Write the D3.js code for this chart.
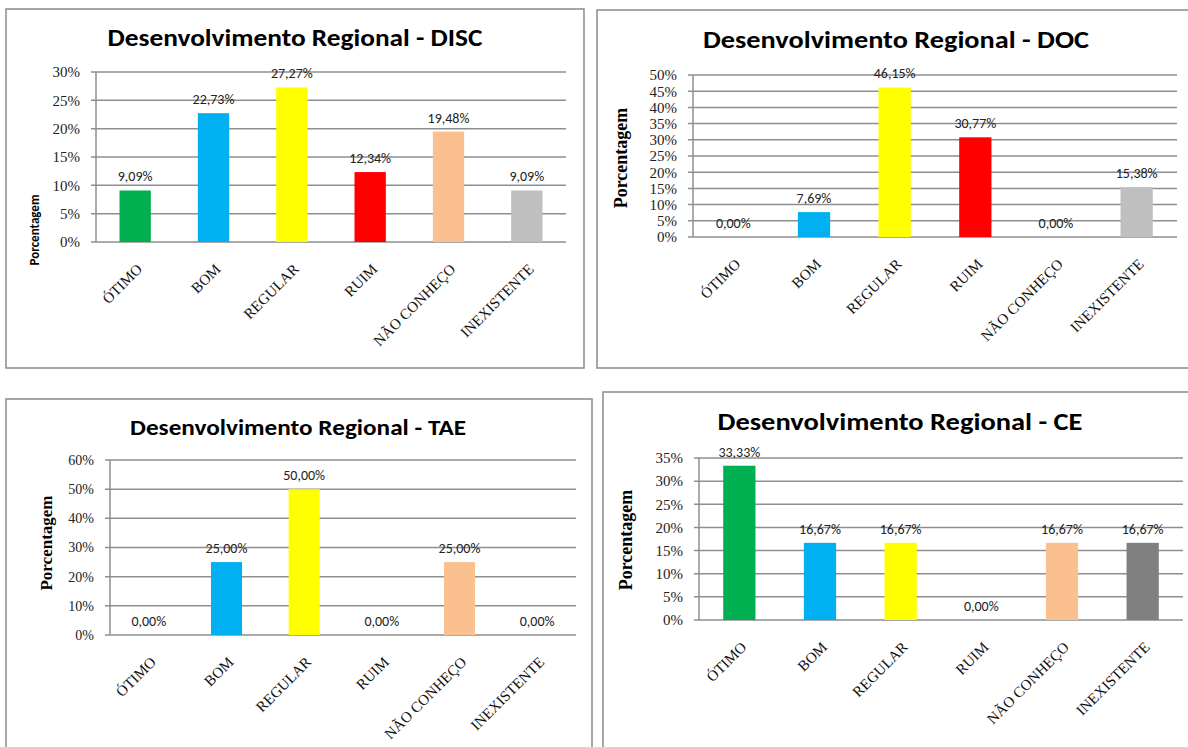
<!DOCTYPE html>
<html>
<head>
<meta charset="utf-8">
<script src="https://cdn.jsdelivr.net/npm/d3@7"></script>
<style>
  body { margin: 0; background: #fff; }
  svg { display: block; }
</style>
</head>
<body>
<div id="chart"></div>
<script>
'use strict';

/* Data */
const categories = ['ÓTIMO', 'BOM', 'REGULAR', 'RUIM', 'NÃO CONHEÇO', 'INEXISTENTE'];

const discValues = [9.09, 22.73, 27.27, 12.34, 19.48, 9.09];
const docValues  = [0, 7.69, 46.15, 30.77, 0, 15.38];
const taeValues  = [0, 25, 50, 0, 25, 0];
const ceValues   = [33.33, 16.67, 16.67, 0, 16.67, 16.67];

const discTicks = [0, 5, 10, 15, 20, 25, 30];
const docTicks  = [0, 5, 10, 15, 20, 25, 30, 35, 40, 45, 50];
const taeTicks  = [0, 10, 20, 30, 40, 50, 60];
const ceTicks   = [0, 5, 10, 15, 20, 25, 30, 35];

const barColors   = ['#00B050', '#00B0F0', '#FFFF00', '#FF0000', '#FAC090', '#BFBFBF'];
const ceBarColors = ['#00B050', '#00B0F0', '#FFFF00', '#FF0000', '#FAC090', '#808080'];

const SANS = 'Carlito, Calibri, Lato, sans-serif';
const SERIF = '"Liberation Serif", "Times New Roman", serif';
const GRID = '#8e8e8e';

const svg = d3.select('#chart').append('svg')
    .attr('width', 1188).attr('height', 747)
    .attr('viewBox', '0 0 1188 747');

const fmt = v => v.toFixed(2).replace('.', ',') + '%';

/**
 * One Excel-style column chart inside a grey framed box.
 */
function drawPanel(p) {
    const g = svg.append('g');

    g.append('rect')
        .attr('x', p.frame[0]).attr('y', p.frame[1])
        .attr('width', p.frame[2] - p.frame[0]).attr('height', p.frame[3] - p.frame[1])
        .attr('fill', '#fff').attr('stroke', '#8a8a8a').attr('stroke-width', 1.5);

    g.append('text')
        .attr('x', p.titleX).attr('y', p.titleY)
        .attr('text-anchor', 'middle')
        .attr('font-family', SANS).attr('font-weight', 900)
        .attr('font-size', p.titleSize)
        .attr('textLength', p.titleWidth).attr('lengthAdjust', 'spacingAndGlyphs')
        .attr('fill', '#000')
        .text(p.title);

    const x = d3.scaleBand().domain(categories)
        .range([p.left, p.right]).paddingInner(0.6).paddingOuter(0.3);
    const y = d3.scaleLinear().domain([0, d3.max(p.ticks)]).range([p.bottom, p.top]);

    /* gridlines + small tick marks left of the axis */
    g.selectAll('line.grid').data(p.ticks).join('line')
        .attr('class', 'grid')
        .attr('x1', p.left - 5).attr('x2', p.right)
        .attr('y1', d => y(d)).attr('y2', d => y(d))
        .attr('stroke', GRID).attr('stroke-width', 1.5);

    g.append('line')
        .attr('x1', p.left).attr('x2', p.left)
        .attr('y1', p.top).attr('y2', p.bottom)
        .attr('stroke', GRID).attr('stroke-width', 1.5);

    const yAxis = g.append('g')
        .attr('transform', `translate(${p.left},0)`)
        .call(d3.axisLeft(y).tickValues(p.ticks).tickFormat(d => d + '%').tickSize(0).tickPadding(16));
    yAxis.select('.domain').remove();
    yAxis.selectAll('text')
        .attr('font-family', SERIF).attr('font-size', p.tickSize).attr('fill', '#222');

    /* bars */
    g.selectAll('rect.bar').data(p.values).join('rect')
        .attr('class', 'bar')
        .attr('x', (d, i) => x(categories[i]))
        .attr('width', x.bandwidth())
        .attr('y', d => y(d))
        .attr('height', d => p.bottom - y(d))
        .attr('fill', (d, i) => p.colors[i]);

    /* value labels */
    g.selectAll('text.val').data(p.values).join('text')
        .attr('class', 'val')
        .attr('x', (d, i) => x(categories[i]) + x.bandwidth() / 2)
        .attr('y', d => y(d) - 9)
        .attr('text-anchor', 'middle')
        .attr('font-family', SANS).attr('font-size', 14).attr('fill', '#222')
        .text(d => fmt(d));

    /* category labels, rotated */
    const xAxis = g.append('g')
        .attr('transform', `translate(0,${p.bottom})`)
        .call(d3.axisBottom(x).tickSize(0));
    xAxis.select('.domain').remove();
    xAxis.selectAll('text')
        .attr('x', 0).attr('y', 0).attr('dy', 0)
        .attr('text-anchor', 'end')
        .attr('transform', 'translate(8,28) rotate(-45)')
        .attr('font-family', SERIF).attr('font-size', 15).attr('fill', '#111');

    /* axis title */
    g.append('text')
        .attr('transform', `translate(${p.yTitleX},${p.yTitleY}) rotate(-90)`)
        .attr('text-anchor', 'middle')
        .attr('dy', '0.35em')
        .attr('font-family', p.yTitleSerif ? SERIF : SANS)
        .attr('font-weight', 'bold')
        .attr('font-size', p.yTitleSize)
        .attr('fill', '#000')
        .text('Porcentagem');
}

drawPanel({
    title: 'Desenvolvimento Regional - DISC', values: discValues, ticks: discTicks, colors: barColors,
    frame: [6, 9, 584, 368], left: 96, right: 566, top: 72, bottom: 242,
    titleX: 295, titleY: 46, titleSize: 25, titleWidth: 375,
    tickSize: 15, yTitleX: 34, yTitleY: 230, yTitleSize: 13, yTitleSerif: false
});

drawPanel({
    title: 'Desenvolvimento Regional - DOC', values: docValues, ticks: docTicks, colors: barColors,
    frame: [597, 10, 1200, 368], left: 693, right: 1177, top: 75, bottom: 237,
    titleX: 896, titleY: 48, titleSize: 25, titleWidth: 386,
    tickSize: 15, yTitleX: 621, yTitleY: 158, yTitleSize: 18, yTitleSerif: true
});

drawPanel({
    title: 'Desenvolvimento Regional - TAE', values: taeValues, ticks: taeTicks, colors: barColors,
    frame: [6, 399, 592, 760], left: 110, right: 576, top: 460, bottom: 635,
    titleX: 298, titleY: 435, titleSize: 23, titleWidth: 336,
    tickSize: 14, yTitleX: 46, yTitleY: 543, yTitleSize: 17, yTitleSerif: true
});

drawPanel({
    title: 'Desenvolvimento Regional - CE', values: ceValues, ticks: ceTicks, colors: ceBarColors,
    frame: [603, 392, 1200, 760], left: 699, right: 1183, top: 458, bottom: 620,
    titleX: 900, titleY: 430, titleSize: 25, titleWidth: 365,
    tickSize: 15, yTitleX: 626, yTitleY: 540, yTitleSize: 18, yTitleSerif: true
});
</script>
</body>
</html>
